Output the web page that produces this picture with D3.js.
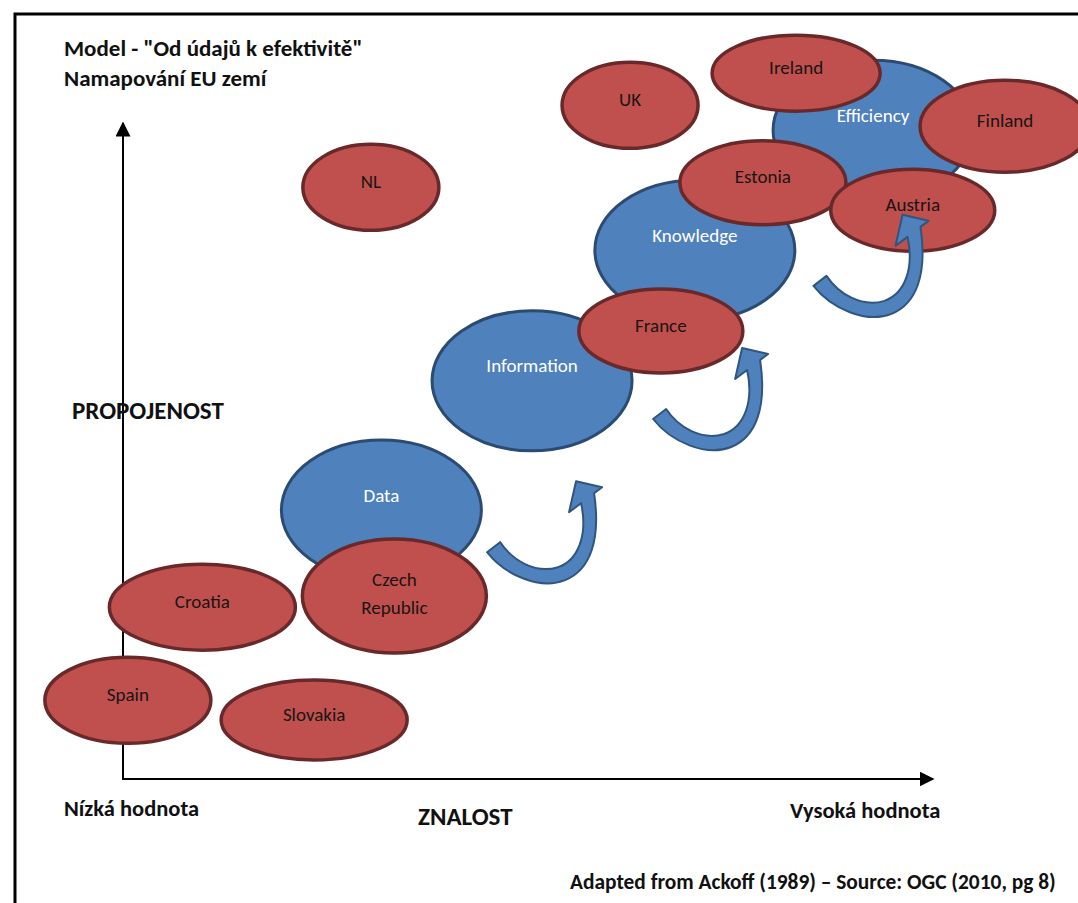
<!DOCTYPE html>
<html>
<head>
<meta charset="utf-8">
<script src="https://cdn.jsdelivr.net/npm/d3@7"></script>
<style>
  body { margin: 0; background: #fff; }
  svg text { font-family: Carlito, Calibri, Lato, sans-serif; }
</style>
</head>
<body>
<svg id="chart"></svg>
<script>
// Stages of the Ackoff pyramid (blue ovals), on knowledge (x) / linkage (y) axes, 0-100
var stageNames = ['Data', 'Information', 'Knowledge', 'Efficiency'];
var stageKnowledge = [31.9, 50.5, 70.6, 92.6];
var stageLinkage = [41.0, 60.7, 80.6, 98.9];

// Countries (red ovals), drawn in this order
var countryNames = ['NL', 'UK', 'Ireland', 'Finland', 'Estonia', 'Austria', 'France',
                    'Croatia', 'Spain', 'Slovakia', 'Czech Republic'];
var countryKnowledge = [30.6, 62.6, 83.1, 108.9, 79.0, 97.5, 66.4, 9.8, 0.6, 23.6, 33.5];
var countryLinkage = [90.2, 102.7, 107.6, 99.5, 90.9, 86.7, 68.3, 26.2, 12.0, 9.0, 27.9];

// Curved "move up" arrows between stages (top-left of each arrow)
var arrowKnowledge = [44.7, 65.2, 85.0];
var arrowLinkage = [45.4, 65.7, 86.0];

// Axis and caption texts
var titleLines = ['Model - "Od údajů k efektivitě"', 'Namapování EU zemí'];
var yAxisTitle = 'PROPOJENOST';
var xAxisTitle = 'ZNALOST';
var xLowLabel = 'Nízká hodnota';
var xHighLabel = 'Vysoká hodnota';
var sourceNote = 'Adapted from Ackoff (1989) – Source: OGC (2010, pg 8)';

// Oval sizes (half width, half height in px)
var stageSize = { rx: 100, ry: 70 };
var countrySize = {
    'NL': [68, 43], 'UK': [68, 43], 'Ireland': [84, 38], 'Finland': [85, 46],
    'Estonia': [83, 42], 'Austria': [82, 41], 'France': [82, 42], 'Croatia': [93, 43],
    'Spain': [83, 43], 'Slovakia': [93, 40], 'Czech Republic': [92, 57]
};

var width = 1078, height = 903;
var svg = d3.select('#chart').attr('width', width).attr('height', height);

// Frame around the figure
svg.append('rect')
    .attr('x', 15).attr('y', 14)
    .attr('width', width + 20).attr('height', height + 20)
    .attr('fill', 'none').attr('stroke', '#000').attr('stroke-width', 3);

// Scales
var x = d3.scaleLinear().domain([0, 100]).range([123, 933]);
var y = d3.scaleLinear().domain([0, 100]).range([779, 123]);

// Arrow heads for axes
var defs = svg.append('defs');
defs.append('marker')
    .attr('id', 'axisHead')
    .attr('viewBox', '0 0 10 10')
    .attr('refX', 9).attr('refY', 5)
    .attr('markerWidth', 7.5).attr('markerHeight', 7.5)
    .attr('markerUnits', 'strokeWidth')
    .attr('orient', 'auto')
    .append('path')
    .attr('d', 'M0,0 L10,5 L0,10 Z')
    .attr('fill', '#000');

// Axes
svg.append('line')
    .attr('x1', x(0)).attr('y1', y(0))
    .attr('x2', x(0)).attr('y2', y(100))
    .attr('stroke', '#000').attr('stroke-width', 2)
    .attr('marker-end', 'url(#axisHead)');
svg.append('line')
    .attr('x1', x(0) - 1).attr('y1', y(0))
    .attr('x2', x(100)).attr('y2', y(0))
    .attr('stroke', '#000').attr('stroke-width', 2)
    .attr('marker-end', 'url(#axisHead)');

// Title
svg.append('g').selectAll('text')
    .data(titleLines)
    .enter().append('text')
    .attr('x', 64)
    .attr('y', function(d, i){ return 56 + i * 30 })
    .attr('font-size', '23px')
    .attr('font-weight', 'bold')
    .attr('fill', '#111')
    .text(function(d){ return d });

// Axis titles
svg.append('text')
    .attr('x', 72).attr('y', 419)
    .attr('font-size', '25px').attr('font-weight', 'bold').attr('fill', '#111')
    .text(yAxisTitle);
svg.append('text')
    .attr('x', 64).attr('y', 816)
    .attr('font-size', '22.5px').attr('font-weight', 'bold').attr('fill', '#111')
    .text(xLowLabel);
svg.append('text')
    .attr('x', 418).attr('y', 825)
    .attr('font-size', '25px').attr('font-weight', 'bold').attr('fill', '#111')
    .text(xAxisTitle);
svg.append('text')
    .attr('x', 790).attr('y', 818)
    .attr('font-size', '22.5px').attr('font-weight', 'bold').attr('fill', '#111')
    .text(xHighLabel);
svg.append('text')
    .attr('x', 570).attr('y', 889)
    .attr('font-size', '21.4px').attr('font-weight', 'bold').attr('fill', '#111')
    .text(sourceNote);

// Stage ovals
var stages = stageNames.map(function(d, i){
    return { name: d, k: stageKnowledge[i], l: stageLinkage[i] };
});
var stageG = svg.append('g').selectAll('g')
    .data(stages)
    .enter().append('g')
    .attr('transform', function(d){ return 'translate(' + x(d.k) + ',' + y(d.l) + ')' });
stageG.append('ellipse')
    .attr('rx', stageSize.rx).attr('ry', stageSize.ry)
    .attr('fill', '#4F81BD')
    .attr('stroke', '#2B4B72').attr('stroke-width', 3);
stageG.append('text')
    .attr('y', -15)
    .attr('dy', '0.35em')
    .attr('text-anchor', 'middle')
    .attr('font-size', '19px')
    .attr('fill', '#fff')
    .text(function(d){ return d.name });

// Country ovals
var countries = countryNames.map(function(d, i){
    return { name: d, k: countryKnowledge[i], l: countryLinkage[i] };
});
var countryG = svg.append('g').selectAll('g')
    .data(countries)
    .enter().append('g')
    .attr('transform', function(d){ return 'translate(' + x(d.k) + ',' + y(d.l) + ')' });
countryG.append('ellipse')
    .attr('rx', function(d){ return countrySize[d.name][0] })
    .attr('ry', function(d){ return countrySize[d.name][1] })
    .attr('fill', '#C0504D')
    .attr('stroke', '#69292A').attr('stroke-width', 3.5);
countryG.each(function(d){
    var lines = d.name.split(' ');
    var t = d3.select(this).append('text')
        .attr('text-anchor', 'middle')
        .attr('font-size', '19px')
        .attr('fill', '#1a1414');
    lines.forEach(function(line, j){
        t.append('tspan')
            .attr('x', 0)
            .attr('y', (j - (lines.length - 1) / 2) * 28 - (lines.length > 1 ? 3 : 6))
            .attr('dy', '0.35em')
            .text(line);
    });
});

// Curved block arrows (local shape, origin top-left)
var arrowShape = 'M2,71 C20,94 55,109 80,99 C105,89 116,59 109,12 L117,6 L91,0 L84,31 L96,22 ' +
                 'C103,54 93,79 73,86 C50,93 27,79 15,61 Z';
svg.append('g').selectAll('path')
    .data(arrowKnowledge.map(function(d, i){ return { k: d, l: arrowLinkage[i] } }))
    .enter().append('path')
    .attr('transform', function(d){ return 'translate(' + x(d.k) + ',' + y(d.l) + ')' })
    .attr('d', arrowShape)
    .attr('fill', '#4F81BD')
    .attr('stroke', '#30557F').attr('stroke-width', 2)
    .attr('stroke-linejoin', 'round');
</script>
</body>
</html>
